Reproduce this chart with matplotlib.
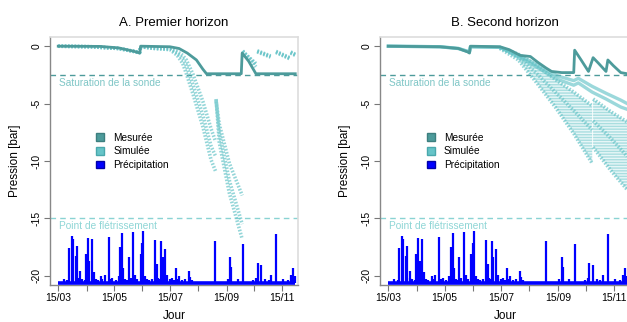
import matplotlib
matplotlib.use("Agg")
import matplotlib.pyplot as plt
import numpy as np
import pandas as pd
from matplotlib.patches import Patch

plt.rcParams['font.family'] = ['Liberation Sans', 'DejaVu Sans']

nan = np.nan

# x values are day of year (15/03 = 74)
rain_day = [80, 84, 86, 89, 90, 93, 94, 97, 98, 100, 103, 104, 106, 108, 111, 113, 115, 117,
            121, 122, 125, 129, 131, 133, 137, 140, 142, 144, 145, 147, 149, 151, 153, 156,
            158, 160, 164, 166, 167, 169, 171, 173, 177, 180, 182, 183, 185, 186, 188, 191,
            193, 196, 198, 200, 203, 204, 206, 209, 212, 217, 218, 220, 245, 259, 262, 263,
            270, 276, 287, 290, 292, 296, 300, 304, 307, 312, 320, 325, 328, 331, 333]
rain_mm = [3, 2, 30, 41, 38, 23, 32, 4, 10, 3, 2, 25, 39, 19, 38, 9, 3, 2,
           6, 3, 7, 40, 3, 4, 2, 6, 31, 43, 13, 3, 2, 22, 4, 44,
           7, 3, 25, 35, 45, 6, 3, 2, 3, 37, 16, 4, 3, 36, 22, 29,
           7, 3, 4, 2, 13, 3, 6, 2, 3, 10, 5, 2, 36, 3, 22, 14,
           3, 34, 2, 4, 17, 15, 3, 2, 7, 42, 3, 2, 7, 13, 6]

# A. Premier horizon
a_meas_day = [74, 120, 140, 157, 163, 164, 196, 206, 215, 225, 232, 236, 274, 275, 282, 290, 333]
a_meas_val = [0, -0.02, -0.15, -0.45, -0.6, 0, -0.05, -0.2, -0.6, -1.2, -2.0, -2.4, -2.4, -0.6, -1.3, -2.4, -2.4]

# nan entries separate the runs between rain events
a_sim_day = [74, 110, 140, 163, 164, 180, 196, 204, 210, 214, 221, 232, 241, 246, 246.2,
             246.5, 250, 261, 275, 275.2, 275.5, 290, 290.5, 291.5, 306, 308, 312, 327, 327.5, 328, 333]
a_sim_1 = [0, -0.05, -0.2, -0.55, -0.05, -0.2, -0.3, -0.8, -1.5, -2.4, -4.1, -7.0, -9.9, -10.9, nan,
           -4.6, -8.4, -12.8, -16.8, nan, -0.4, -1.8, nan, -0.4, -0.85, nan, -0.45, -1.0, nan, -0.5, -0.7]
a_sim_2 = [0, -0.05, -0.2, -0.55, -0.05, -0.2, -0.25, -0.6, -1.1, -1.7, -3.3, -6.0, -8.7, -9.6, nan,
           -4.7, -7.6, -11.7, -15.5, nan, -0.45, -1.6, nan, -0.45, -0.9, nan, -0.5, -1.05, nan, -0.55, -0.75]
a_sim_3 = [0, -0.05, -0.2, -0.55, -0.05, -0.15, -0.2, -0.45, -0.8, -1.2, -2.4, -4.8, -7.2, -8.3, nan,
           -4.8, -6.8, -10.2, -13.0, nan, -0.5, -1.5, nan, -0.5, -0.95, nan, -0.55, -1.1, nan, -0.6, -0.8]

# B. Second horizon
b_meas_day = [74, 130, 150, 160, 162, 163, 195, 205, 217, 228, 236, 245, 251, 262, 275, 276,
              283, 291, 296, 302, 310, 312, 318, 326, 333]
b_meas_val = [0, -0.05, -0.2, -0.5, -0.6, 0, -0.05, -0.3, -0.8, -0.9, -1.4, -1.9, -2.2, -2.3, -2.3, -0.35,
              -1.2, -2.2, -1.0, -1.5, -2.2, -1.2, -1.7, -2.3, -2.4]

b_up_day = [74, 130, 150, 162, 163, 195, 210, 228, 245, 258, 275, 280, 295, 310, 326, 333]
b_up_1 = [0, -0.05, -0.2, -0.5, -0.05, -0.1, -0.6, -1.3, -2.1, -2.6, -3.0, -2.8, -3.5, -4.1, -4.7, -5.0]
b_up_2 = [0, -0.05, -0.2, -0.5, -0.05, -0.1, -0.7, -1.5, -2.3, -2.9, -3.4, -3.2, -4.0, -4.6, -5.3, -5.5]

b_band_day = [195, 215, 235, 255, 275, 295, 295.5, 296, 315, 333]
b_band_top = [-0.1, -0.7, -1.7, -2.9, -4.0, -5.2, nan, -4.6, -5.7, -6.6]
b_band_mid = [-0.15, -0.9, -2.4, -4.0, -5.6, -7.3, nan, -6.5, -8.0, -9.6]
b_band_low = [-0.2, -1.2, -3.2, -5.3, -7.6, -10.2, nan, -8.8, -10.8, -12.5]

saturation = -2.5
fletrissement = -15.0
rain_base = -20.6
rain_scale = 0.1

c_meas = '#4d9b9b'
c_sim = '#66c4c8'
c_sat = '#4d9b9b'
c_flet = '#8ad3d3'
c_rain = '#0000ff'

fig = plt.figure(figsize=(6.27, 3.22), dpi=100)
ax_a = fig.add_axes([50 / 627, 37 / 322, 248 / 627, 248 / 322])
ax_b = fig.add_axes([380 / 627, 37 / 322, 250 / 627, 248 / 322])

dates = pd.date_range('2013-03-01', periods=9, freq='MS') + pd.Timedelta(days=14)
tick_days = [d.dayofyear for d in dates]
tick_labels = [d.strftime('%d/%m') if i % 2 == 0 else '' for i, d in enumerate(dates)]


def draw_common(ax, title):
    ax.axhline(saturation, color=c_sat, lw=1, ls=(0, (4, 3)), zorder=1)
    ax.axhline(fletrissement, color=c_flet, lw=1, ls=(0, (4, 3)), zorder=1)
    ax.text(75, saturation - 0.3, 'Saturation de la sonde', color='#7fc6c6',
            fontsize=7.3, va='top', ha='left')
    ax.text(75, fletrissement - 0.25, 'Point de flétrissement', color='#8fd6d6',
            fontsize=7.3, va='top', ha='left')
    tops = [rain_base + p * rain_scale for p in rain_mm]
    ax.vlines(rain_day, rain_base, tops, color=c_rain, lw=1.6, zorder=3)
    ax.plot([74, 333], [rain_base, rain_base], color=c_rain, lw=2.6, zorder=3,
            solid_capstyle='butt')
    ax.set_xlim(65, 336)
    ax.set_ylim(-20.8, 0.8)
    ax.set_xticks(tick_days)
    ax.set_xticklabels(tick_labels)
    ax.set_yticks([0, -5, -10, -15, -20])
    ax.set_yticklabels(['0', '-5', '-10', '-15', '-20'], rotation=90, va='center')
    ax.tick_params(direction='out', length=4, width=0.8, color='#777777',
                   labelsize=7.5, pad=2)
    for s in ['top', 'right']:
        ax.spines[s].set_color('#dddddd')
        ax.spines[s].set_linewidth(1.2)
    for s in ['left', 'bottom']:
        ax.spines[s].set_color('#888888')
        ax.spines[s].set_linewidth(1.0)
    ax.set_title(title, fontsize=9.5, pad=8)
    ax.set_xlabel('Jour', fontsize=8.5, labelpad=5)
    ax.set_ylabel('Pression [bar]', fontsize=8.5, labelpad=8)
    handles = [Patch(facecolor=c_meas, edgecolor='#3d7f7f', label='Mesurée'),
               Patch(facecolor=c_sim, edgecolor='#4aa8ac', label='Simulée'),
               Patch(facecolor=c_rain, edgecolor='#0000aa', label='Précipitation')]
    ax.legend(handles=handles, loc='upper left', bbox_to_anchor=(0.17, 0.63),
              frameon=False, fontsize=7.3, handlelength=0.8, handleheight=0.8,
              handletextpad=0.9, labelspacing=0.35, borderaxespad=0)


sim_style = dict(color=c_sim, lw=2.6, ls=(0, (0.45, 0.45)), alpha=0.7, zorder=4)

# panel A
draw_common(ax_a, 'A. Premier horizon')
for vals in [a_sim_1, a_sim_2, a_sim_3]:
    ax_a.plot(a_sim_day, vals, **sim_style)
ax_a.plot(a_meas_day, a_meas_val, color=c_meas, lw=2.0, zorder=5)

# panel B
draw_common(ax_b, 'B. Second horizon')
ax_b.fill_between(b_band_day, b_band_top, b_band_low, facecolor='#e2f4f5',
                  edgecolor='#9ad8da', hatch='------', lw=0, alpha=0.8, zorder=2)
for vals in [b_band_top, b_band_mid, b_band_low]:
    ax_b.plot(b_band_day, vals, **sim_style)
for vals in [b_up_1, b_up_2]:
    ax_b.plot(b_up_day, vals, color=c_sim, lw=2.4, alpha=0.65, zorder=4)
ax_b.plot(b_meas_day, b_meas_val, color=c_meas, lw=2.0, zorder=5)

fig.savefig('out.png', dpi=100)
